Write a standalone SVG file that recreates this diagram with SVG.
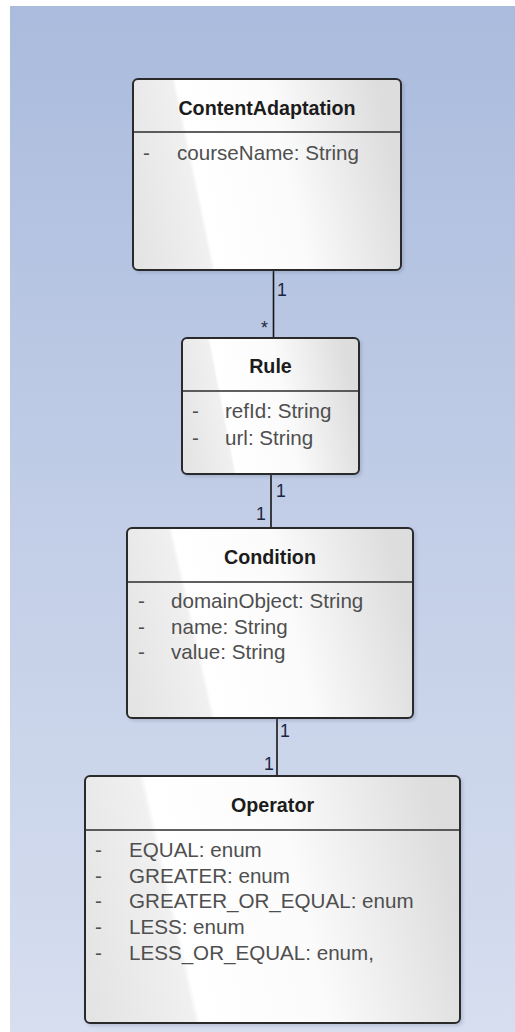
<svg xmlns="http://www.w3.org/2000/svg" width="515" height="1032" viewBox="0 0 515 1032">
  <defs>
    <linearGradient id="bg" x1="0" y1="0" x2="0" y2="1">
      <stop offset="0" stop-color="#aabbdd"/>
      <stop offset="0.5" stop-color="#c2cee7"/>
      <stop offset="1" stop-color="#d6deef"/>
    </linearGradient>
    <!-- glossy class-box fill: grey band on the left, bright centre, grey right edge -->
    <linearGradient id="boxFill" x1="0" y1="0.75" x2="1" y2="0.6">
      <stop offset="0" stop-color="#e4e4e4"/>
      <stop offset="0.25" stop-color="#f0f0f0"/>
      <stop offset="0.265" stop-color="#ffffff"/>
      <stop offset="0.6" stop-color="#fbfbfb"/>
      <stop offset="1" stop-color="#dddddd"/>
    </linearGradient>
    <filter id="shadow" x="-5%" y="-5%" width="115%" height="115%">
      <feDropShadow dx="2" dy="2" stdDeviation="1.5" flood-color="#5a6a8a" flood-opacity="0.25"/>
    </filter>
  </defs>
  <style>
    .box { fill: url(#boxFill); stroke: #2b2b2b; stroke-width: 2; filter: url(#shadow); }
    .div { stroke: #2b2b2b; stroke-width: 1.6; }
    .title { font-family: "Liberation Sans", Arial, sans-serif; font-weight: bold; font-size: 19.7px; fill: #1c1c1c; text-anchor: middle; }
    .attr { font-family: "Liberation Sans", Arial, sans-serif; font-size: 20.6px; fill: #4f4f4f; }
    .conn { stroke: #151515; stroke-width: 1.6; fill: none; }
    .mult { font-family: "Liberation Sans", Arial, sans-serif; font-size: 17.7px; fill: #1d2540; }
  </style>

  <!-- canvas -->
  <rect x="0" y="0" width="515" height="1032" fill="#ffffff"/>
  <rect x="10" y="6" width="505" height="1026" fill="url(#bg)"/>

  <!-- associations -->
  <g id="connectors">
    <line class="conn" x1="273.5" y1="270" x2="273.5" y2="338"/>
    <text class="mult" x="277" y="296">1</text>
    <text class="mult" x="261" y="334">*</text>

    <line class="conn" x1="271" y1="474" x2="271" y2="528"/>
    <text class="mult" x="276" y="497">1</text>
    <text class="mult" x="256" y="520">1</text>

    <line class="conn" x1="277" y1="718" x2="277" y2="776"/>
    <text class="mult" x="280" y="737">1</text>
    <text class="mult" x="264" y="770">1</text>
  </g>

  <g id="ContentAdaptation">
    <rect class="box" x="133" y="79" width="268" height="191" rx="5"/>
    <line class="div" x1="133" y1="132" x2="401" y2="132"/>
    <text class="title" x="267" y="115">ContentAdaptation</text>
    <text class="attr" x="143" y="160">-</text>
    <text class="attr" x="177" y="160">courseName: String</text>
  </g>

  <g id="Rule">
    <rect class="box" x="182" y="338" width="177" height="136" rx="5"/>
    <line class="div" x1="182" y1="391" x2="359" y2="391"/>
    <text class="title" x="270.5" y="373">Rule</text>
    <text class="attr" x="192" y="418">-</text>
    <text class="attr" x="225" y="418">refId: String</text>
    <text class="attr" x="192" y="445">-</text>
    <text class="attr" x="225" y="445">url: String</text>
  </g>

  <g id="Condition">
    <rect class="box" x="127" y="528" width="286" height="190" rx="5"/>
    <line class="div" x1="127" y1="582" x2="413" y2="582"/>
    <text class="title" x="270" y="564">Condition</text>
    <text class="attr" x="138" y="608">-</text>
    <text class="attr" x="171" y="608">domainObject: String</text>
    <text class="attr" x="138" y="634">-</text>
    <text class="attr" x="171" y="634">name: String</text>
    <text class="attr" x="138" y="659">-</text>
    <text class="attr" x="171" y="659">value: String</text>
  </g>

  <g id="Operator">
    <rect class="box" x="85" y="776" width="375" height="247" rx="5"/>
    <line class="div" x1="85" y1="830" x2="460" y2="830"/>
    <text class="title" x="272.5" y="812">Operator</text>
    <text class="attr" x="95" y="857">-</text>
    <text class="attr" x="129" y="857">EQUAL: enum</text>
    <text class="attr" x="95" y="883">-</text>
    <text class="attr" x="129" y="883">GREATER: enum</text>
    <text class="attr" x="95" y="908">-</text>
    <text class="attr" x="129" y="908">GREATER_OR_EQUAL: enum</text>
    <text class="attr" x="95" y="934">-</text>
    <text class="attr" x="129" y="934">LESS: enum</text>
    <text class="attr" x="95" y="960">-</text>
    <text class="attr" x="129" y="960">LESS_OR_EQUAL: enum,</text>
  </g>
</svg>
